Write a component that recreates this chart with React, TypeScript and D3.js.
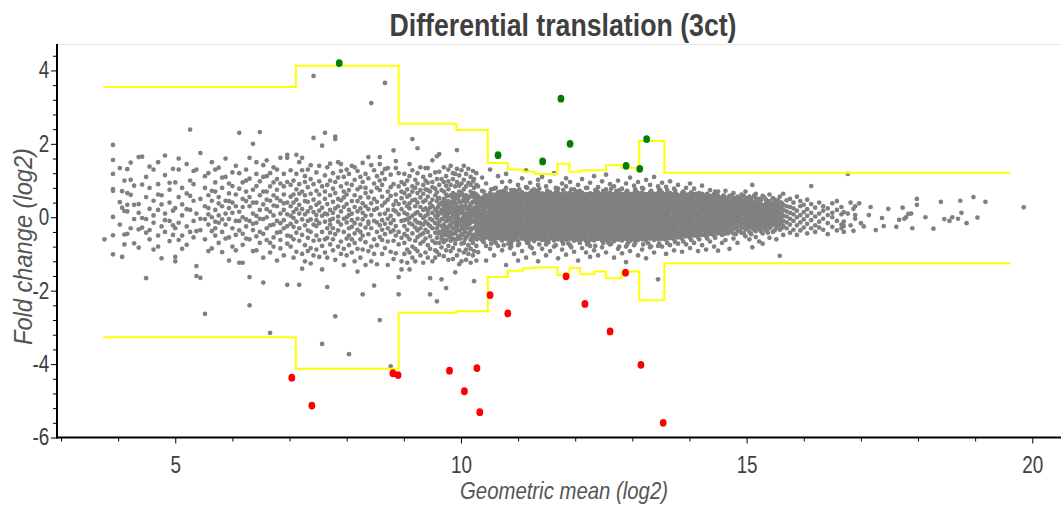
import { useEffect, useRef } from "react";
import * as d3 from "d3";

const TITLE = "Differential translation (3ct)";
const X_LABEL = "Geometric mean (log2)";
const Y_LABEL = "Fold change (log2)";

const X_MAJOR_TICKS = [5, 10, 15, 20];
const X_MINOR_TICKS = [3, 4, 6, 7, 8, 9, 11, 12, 13, 14, 16, 17, 18, 19];
const Y_MAJOR_TICKS = [-6, -4, -2, 0, 2, 4];
const Y_MINOR_TICKS = [
  -5.6, -5.2, -4.8, -4.4, -3.6, -3.2, -2.8, -2.4, -1.6, -1.2, -0.8, -0.4, 0.4,
  0.8, 1.2, 1.6, 2.4, 2.8, 3.2, 3.6, 4.4,
];

// threshold step lines (x break points, one limit per segment)
const STEP_BREAKS = [
  3.74, 7.11, 8.91, 9.92, 10.47, 10.82, 11.09, 11.29, 11.69, 11.9, 12.09, 12.33,
  12.54, 12.81, 13.12, 13.56, 19.62,
];
const UPPER_LIMIT = [
  3.55, 4.13, 2.55, 2.38, 1.48, 1.3, 1.24, 1.18, 1.46, 1.24, 1.28, 1.28, 1.42,
  1.35, 2.08, 1.21,
];
const LOWER_LIMIT = [
  -3.27, -4.13, -2.6, -2.56, -1.63, -1.46, -1.39, -1.37, -1.57, -1.38, -1.55,
  -1.48, -1.66, -1.48, -2.26, -1.25,
];

const UP_GENES: [number, number][] = [
  [7.87, 4.2], [10.65, 1.69], [11.43, 1.52], [11.75, 3.23], [11.91, 2.0],
  [12.89, 1.4], [13.13, 1.32], [13.25, 2.13],
];
const DOWN_GENES: [number, number][] = [
  [7.04, -4.37], [7.39, -5.13], [8.81, -4.25], [8.9, -4.3], [9.8, -4.18],
  [10.06, -4.74], [10.28, -4.11], [10.33, -5.31], [10.51, -2.12],
  [10.82, -2.62], [11.84, -1.61], [12.17, -2.36], [12.61, -3.11],
  [12.88, -1.51], [13.15, -4.02], [13.54, -5.6],
];

// all other genes: "geometric mean : fold changes x100"
const GRAY_COLUMNS = [
  "3.76:-60", "3.91:197,156,118,77,72,1,-49,-101", "4.03:41,-20,134", "4.07:26,71,-108",
  "4.11:17,100,-74,-47", "4.16:16,66,-45,131,34", "4.22:102,61,-30,149", "4.28:34,-71,-5,86",
  "4.36:164,36,-83,12,-33", "4.42:165,-28,89,-2", "4.49:-166,55,-5,110,-42", "4.55:23,-35,80,-60,138",
  "4.62:130,5,-15,45,-88", "4.70:90,-50,20,-80,150,62", "4.76:60,-25,35,-112", "4.82:168,10,-40,115,-8",
  "4.90:75,-10,-65,40,94", "4.96:-22,132,18,-48", "5.00:-108,-120,25,95,-30", "5.06:160,55,-15,130,-62",
  "5.12:5,-50,80,35,-86", "5.20:145,-25,65,-75,22", "5.26:239,20,-40,100,58", "5.32:90,-10,45,-55,126",
  "5.37:-133,-160,130,10,-38", "5.44:-165,50,-35,175,-4", "5.52:-263,80,-5,30,-60,112",
  "5.58:120,25,-20,60,-92,8", "5.64:45,-85,0,150,72,-38", "5.70:95,-30,20,70,-50,-12,130",
  "5.76:135,5,-15,55,-70,38", "5.82:80,-40,30,-95,108,-6", "5.88:160,10,-20,45,110,-58",
  "5.94:65,-55,25,-5,92,-118,44", "6.00:85,-30,40,-80,12,122", "6.06:-10,62,-48,30,140,-90",
  "6.12:230,-124,120,15,-10,78,-36", "6.18:50,-45,95,0,-75,28,-124", "6.24:70,-25,130,-6,44,-58,100",
  "6.30:-163,-240,30,-60,105,55,-10,162", "6.36:200,10,-35,75,-92,40,-18", "6.42:85,-15,40,-90,150,4,118,-52",
  "6.48:232,20,60,-40,98,-70,-4", "6.54:-178,110,-5,35,-45,70,-110,142", "6.60:155,70,0,-30,22,-62,112,48",
  "6.66:-315,45,-70,120,15,-22,84,-96", "6.72:95,-20,60,-55,5,136,32,-80", "6.78:130,30,-10,75,-42,-118,104,52",
  "6.84:162,-40,45,10,-85,-16,92,-62", "6.90:62,-30,20,118,-8,-104,84,38", "6.96:162,170,-50,40,8,-72,96,-24,-184",
  "7.02:-52,30,88,-18,4,-80,56,128", "7.07:-26,62,-110,14,100,-60,40,-2", "7.12:170,-42,22,76,-94,-12,118,48",
  "7.17:150,-184,10,-64,90,34,-30,64", "7.22:162,-48,-6,70,128,-100,22,-140", "7.27:44,-22,96,-76,8,60,-120,112",
  "7.32:-36,16,130,-56,82,-10,42,-92", "7.37:64,-84,26,-6,104,-40,142,-126", "7.42:385,216,-20,48,-64,14,90,-104",
  "7.47:122,-8,34,-50,72,-88,-24,6", "7.52:-62,40,-16,98,18,-108,62,140", "7.57:195,-345,-40,26,84,-78,4,-142",
  "7.62:230,50,-12,-60,114,10,-96,70", "7.66:-190,-30,88,36,-110,8,-56,136", "7.71:60,-20,100,-74,20,-42,146,-8",
  "7.76:-90,42,-4,120,-30,78,-60,12", "7.80:220,213,-270,24,-46,66,-116,96", "7.85:-12,50,-80,108,2,-36,30,150",
  "7.90:145,126,-66,16,-20,84,46,-100", "7.95:-40,70,-4,-86,110,28,-130,54", "8.00:36,-58,92,-14,130,0,-104,62",
  "8.04:-373,-30,20,74,-76,118,-50,6", "8.09:88,-26,44,-96,10,140,-60,-8", "8.14:-44,60,-120,28,102,-16,-70,136",
  "8.19:16,-86,76,-34,126,44,-4,-148", "8.24:110,-60,24,-20,82,-110,54,-40", "8.28:-210,-6,148,38,-50,96,-88,12",
  "8.33:66,-28,-130,30,118,-68,4,80", "8.38:164,-12,54,-92,22,-46,106,-18", "8.43:311,-80,38,-30,142,6,-120,70",
  "8.48:-186,92,-10,50,-60,128,20,-100", "8.53:-40,112,24,-76,80,-14,42,-128", "8.58:164,145,-280,8,-54,74,-22,100",
  "8.62:-62,32,120,-100,-8,56,-34,88", "8.67:366,131,-18,-84,40,-46,10,104", "8.72:70,-30,-130,20,134,-66,48,-4",
  "8.77:-406,-94,58,4,-40,116,-16,82", "8.82:182,-8,34,-64,90,-114,20,-36", "8.86:153,-50,62,16,-98,134,-24,44",
  "8.91:-163,-210,8,-40,84,-74,120,36", "8.96:-142,52,-10,96,-56,22,-120,70",
  "9.01:-24,40,-70,12,90,-46,66,-8,118,-100", "9.06:56,-34,100,-6,-88,30,-124,76,8,-52",
  "9.10:-142,145,-16,60,-60,24,112,-96,-2,38", "9.15:213,-44,84,4,-80,46,-20,128,-110,70",
  "9.20:10,-64,102,-28,48,-120,80,-8,30,-86", "9.24:188,-36,66,-92,14,120,-54,40,-14,92",
  "9.29:-16,74,-104,28,-48,136,6,-72,54,-30", "9.34:88,-20,42,-66,110,-2,-124,20,64,-44",
  "9.38:-58,24,134,-12,76,-96,46,-34,4,100", "9.42:134,-76,8,-40,94,56,-110,18,-18,74",
  "9.46:-210,-166,38,-4,114,-52,70,-86,26,-24", "9.50:155,-30,82,-64,12,48,-120,96,-8,30",
  "9.55:-90,60,-16,122,-42,22,-70,78,4,-110", "9.58:166,-229,-2,44,-56,104,-30,16,-94,68",
  "9.62:172,34,-70,88,-12,-40,124,10,-102,52", "9.66:-169,-48,20,74,-24,104,-82,-6,40,-58",
  "9.70:96,-20,50,-106,8,136,-40,70,-68,28", "9.74:-193,36,-62,112,-10,62,-90,14,-34,86",
  "9.78:-28,76,-116,22,-50,98,0,44,-78,130", "9.82:60,-40,140,-6,-92,30,88,-64,12,-22",
  "9.86:-114,24,-30,104,-58,66,2,-84,44,120", "9.90:-150,84,-18,38,-72,118,-2,54,-44,16",
  "9.93:183,-60,8,96,-26,-104,60,24,-10,132", "9.97:-36,70,-90,18,114,-56,42,-12,-128,86",
  "10.01:30,-46,-120,92,-8,66,-72,12,128,-24", "10.05:-70,50,4,102,-32,-96,28,76,-14,140",
  "10.09:118,-22,42,-88,8,-54,84,-4,-116,60", "10.13:-44,94,-8,28,-76,132,-30,52,12,-100",
  "10.17:70,-62,-14,110,36,-86,20,-36,88,-124", "10.21:-10,56,-104,24,-48,98,6,-70,42,126",
  "10.23:-174,80,-30,14,-58,66,-12,104,-92", "10.27:40,-78,120,-22,8,-44,88,-118,62,-4",
  "10.30:-95,-58,-45,-34,-22,-10,2,13,25,36,47,57,84", "10.37:-62,-51,-39,-28,-16,-4,7,19,31,42,52,72,108",
  "10.44:-118,-78,-55,-43,-31,-20,-9,3,15,27,38,50,60,92", "10.51:-60,-48,-36,-25,-13,-1,10,22,33,44,55,66,-86,130",
  "10.58:-64,-53,-41,-29,-18,-6,5,17,28,40,51,62,-104,78", "10.65:-57,-46,-34,-23,-11,0,12,24,35,47,58,68,-78,112",
  "10.72:-63,-50,-39,-27,-15,-3,8,20,31,43,54,64,-90,96", "10.79:-59,-47,-36,-24,-12,-1,11,23,34,45,57,67,-130,80,118",
  "10.86:-65,-52,-40,-29,-17,-5,6,18,30,41,52,63,-84,98", "10.93:-61,-49,-37,-26,-14,-2,9,21,32,44,55,66,-100,74",
  "11.00:-64,-51,-40,-28,-16,-4,7,19,30,42,53,65,-76,-118,88", "11.07:-58,-46,-35,-23,-11,0,12,23,35,46,57,68,-92,106",
  "11.14:-63,-50,-38,-27,-15,-3,8,20,31,43,54,64,-110,82,128", "11.21:-60,-48,-37,-25,-13,-2,10,21,33,44,56,66,-80,94",
  "11.28:-65,-53,-41,-29,-18,-6,5,17,28,40,51,63,-98,76", "11.35:-59,-47,-36,-24,-12,-1,11,22,34,45,56,67,-120,88,102",
  "11.42:-62,-50,-38,-27,-15,-3,8,20,31,43,54,65,-86,110", "11.49:-64,-52,-40,-28,-17,-5,6,18,30,41,52,64,-74,-104,84",
  "11.56:-58,-47,-35,-23,-12,0,11,23,34,46,57,68,-92,98", "11.63:-63,-51,-39,-27,-16,-4,8,19,31,42,54,64,-80,120",
  "11.70:-60,-49,-37,-25,-14,-2,9,21,32,44,55,66,-112,78", "11.77:-65,-53,-41,-29,-18,-6,6,17,29,40,52,63,-88,92",
  "11.84:-61,-49,-38,-26,-14,-3,9,20,32,43,55,65,-102,84,106", "11.91:-59,-47,-36,-24,-12,0,11,23,34,46,57,67,-76,96",
  "11.98:-64,-52,-40,-28,-16,-5,7,18,30,41,53,64,-94,76", "12.05:-62,-50,-38,-27,-15,-3,8,20,31,43,54,66,-118,88",
  "12.12:-60,-48,-37,-25,-13,-1,10,22,33,45,56,67,-84,104", "12.19:-65,-53,-41,-29,-18,-6,6,17,29,40,52,63,-96,80",
  "12.26:-61,-49,-37,-26,-14,-2,9,21,32,44,55,65,-78,-108,94", "12.33:-63,-51,-39,-27,-16,-4,8,19,31,42,54,64,-90,112",
  "12.40:-59,-47,-35,-24,-12,0,11,23,34,46,57,68,-104,82", "12.47:-64,-52,-40,-28,-17,-5,7,18,30,41,53,63,-82,98",
  "12.54:-62,-50,-38,-27,-15,-3,8,20,31,43,54,66,-96,76,116", "12.61:-60,-48,-37,-25,-13,-1,10,22,33,45,56,67,-74,90",
  "12.68:-65,-53,-41,-29,-18,-6,6,17,29,40,52,63,-110,84", "12.75:-61,-49,-37,-26,-14,-2,9,21,32,44,55,65,-86,100",
  "12.82:-63,-51,-39,-27,-16,-4,8,19,31,42,54,64,-98,78", "12.89:-59,-47,-36,-24,-12,0,11,23,34,46,57,67,-80,-122,92",
  "12.96:-64,-52,-40,-28,-16,-5,7,18,30,41,53,64,-92,108", "13.03:-61,-49,-38,-26,-14,-3,9,20,32,43,55,65,-76,86",
  "13.10:-62,-50,-38,-27,-15,-3,8,20,31,43,54,66,-104,96", "13.17:-60,-48,-36,-25,-13,-1,10,22,33,45,56,67,-88,80",
  "13.24:-64,-52,-40,-28,-17,-5,7,18,30,41,53,63,-112,102", "13.31:-58,-46,-35,-23,-11,0,12,23,35,46,57,68,-82,88",
  "13.38:-62,-50,-38,-27,-15,-3,8,20,31,43,54,64,-96,110", "13.45:-60,-48,-37,-25,-13,-1,10,22,33,44,56,66,-169,-78,84",
  "13.52:-59,-47,-35,-24,-12,0,11,23,34,46,57,67,-80,94", "13.59:-61,-49,-37,-26,-14,-2,9,21,32,43,55,64,-100,83",
  "13.66:-57,-45,-34,-22,-10,1,13,24,36,47,58,66,-76,98", "13.73:-60,-48,-36,-24,-13,-1,10,22,33,45,56,64,-90,78",
  "13.80:-55,-44,-32,-20,-9,3,14,26,37,48,59,-72,88", "13.87:-58,-46,-34,-23,-11,0,12,24,35,46,57,66,-94",
  "13.94:-52,-40,-29,-17,-6,6,17,29,40,51,61,-74,80", "14.01:-56,-44,-32,-21,-9,2,14,25,37,48,59,-84,92",
  "14.08:-50,-38,-27,-15,-4,8,19,31,42,53,63,-70,78", "14.15:-54,-42,-30,-19,-7,4,16,27,39,50,60,-92",
  "14.22:-48,-36,-25,-13,-2,10,21,33,44,55,64,-76,86", "14.29:-52,-40,-28,-17,-5,6,18,29,41,52,61,-88",
  "14.36:-46,-34,-23,-11,0,12,23,35,46,57,-66,74", "14.43:-50,-38,-26,-15,-3,8,20,31,43,54,63,-80",
  "14.50:-44,-32,-21,-9,2,14,25,37,48,58,-91,70", "14.57:-48,-36,-24,-13,-1,10,22,33,45,55,-70",
  "14.63:-40,-28,-17,-5,6,18,29,41,52,-62,72", "14.70:-86,-34,-22,-11,1,12,24,35,47,58",
  "14.77:-44,-30,-18,-6,5,17,28,40,51,-58,66", "14.84:-36,-24,-12,0,11,23,34,46,56,-70",
  "14.91:-42,-28,-16,-4,8,20,31,43,53,62", "14.98:-34,-22,-10,2,14,25,37,48,-52,70",
  "15.05:-40,-26,-14,-2,10,22,34,45,56,-60", "15.10:88,-82,-30,-18,-6,6,18,30,42",
  "15.16:-38,-24,-12,0,12,24,36,-54,52,64", "15.22:-32,-20,-8,4,16,28,40,50,-66",
  "15.28:-44,-26,-14,-2,10,22,34,58,-72", "15.34:-36,-22,-10,2,14,26,38,48",
  "15.40:-30,-18,-6,6,18,30,44,-56,62", "15.46:-40,-20,-8,8,20,36,52",
  "15.52:-28,-14,0,14,28,42,-60", "15.58:-105,-34,-18,-4,10,24,38,56",
  "15.64:-24,-10,4,20,34,-48,64", "15.70:-30,-14,2,16,30,46",
  "15.76:-20,-4,12,28,-42,50", "15.82:-34,-10,8,24,40", "15.88:-22,0,18,-48,56", "15.94:-14,6,30,-36,44",
  "16.00:-28,-6,14,34", "16.06:-18,4,22,-44,48", "16.13:85,-8,12,36,-30", "16.20:-22,2,26,-40",
  "16.27:-12,10,40,-28", "16.34:-34,-4,18,30", "16.42:-16,6,24,-46", "16.50:-26,0,38,12",
  "16.58:-10,20,-36,44", "16.66:-20,8,28,-30", "16.70:-12,14,-40,-24",
  "16.77:118,10", "16.82:40,-22", "16.87:-37,23", "16.90:-4,6,30", "16.97:38", "17.00:-16", "17.05:-25",
  "17.14:6", "17.17:28", "17.26:-35", "17.37:-2", "17.40:-24", "17.48:23", "17.62:-26", "17.67:-7",
  "17.73:26", "17.76:-4", "17.79:0", "17.83:9", "17.88:10", "17.90:-30", "17.98:50,34", "18.13:0",
  "18.27:-31", "18.40:42", "18.46:-5", "18.55:-10", "18.60:0", "18.70:-4", "18.74:45", "18.76:12",
  "18.85:-16", "18.97:55", "19.04:-1", "19.18:42", "19.85:27",
];

// the solid centre of the cloud, between the columns above
const GRAY_CORE_COLUMNS = [
  "10.34:-52,-41,-29,-17,-6,6,17,29,40,51", "10.41:-56,-45,-33,-22,-10,1,13,24,36,47,58",
  "10.48:-54,-42,-31,-19,-8,4,15,27,38,49,60", "10.55:-57,-46,-34,-23,-11,0,12,23,35,46,57",
  "10.62:-55,-43,-32,-20,-9,3,14,26,37,49,60", "10.69:-58,-47,-35,-24,-12,-1,11,22,34,45,57,70",
  "10.76:-54,-42,-31,-19,-8,4,15,27,38,50,61", "10.83:-72,-57,-45,-34,-22,-11,1,12,24,35,47,58",
  "10.90:-55,-44,-32,-21,-9,3,14,26,37,49,60", "10.97:-56,-45,-33,-22,-10,1,13,24,36,47,59,71",
  "11.04:-53,-42,-30,-19,-7,4,16,27,39,50,61", "11.11:-57,-46,-34,-23,-11,0,12,23,35,46,58",
  "11.18:-70,-54,-43,-31,-20,-8,3,15,26,38,49,60", "11.25:-55,-44,-32,-21,-9,2,14,25,37,48,60",
  "11.32:-57,-45,-34,-22,-11,1,12,24,35,47,58,72", "11.39:-54,-42,-31,-19,-8,4,15,27,38,50,61",
  "11.46:-56,-45,-33,-22,-10,1,13,24,36,47,59", "11.53:-68,-53,-42,-30,-19,-7,4,16,27,39,50,62",
  "11.60:-55,-44,-32,-21,-9,2,14,25,37,48,60", "11.67:-57,-46,-34,-23,-11,0,12,23,35,46,58,71",
  "11.74:-54,-43,-31,-20,-8,3,15,26,38,49,61", "11.81:-56,-44,-33,-21,-10,2,13,25,36,48,59",
  "11.88:-71,-53,-42,-30,-19,-7,4,16,27,39,50,62", "11.95:-55,-44,-32,-21,-9,2,14,25,37,48,60",
  "12.02:-57,-45,-34,-22,-11,1,12,24,35,47,58,70", "12.09:-54,-43,-31,-20,-8,3,15,26,38,49,61",
  "12.16:-56,-44,-33,-21,-10,2,13,25,36,48,59", "12.23:-69,-53,-42,-30,-19,-7,4,16,27,39,50,62",
  "12.30:-55,-44,-32,-21,-9,2,14,25,37,48,60", "12.37:-57,-45,-34,-22,-11,1,12,24,35,47,58,72",
  "12.44:-54,-43,-31,-20,-8,3,15,26,38,49,61", "12.51:-56,-44,-33,-21,-10,2,13,25,36,48,59",
  "12.58:-70,-53,-42,-30,-19,-7,4,16,27,39,50,62", "12.65:-55,-44,-32,-21,-9,2,14,25,37,48,60",
  "12.72:-57,-45,-34,-22,-11,1,12,24,35,47,58,71", "12.79:-54,-43,-31,-20,-8,3,15,26,38,49,61",
  "12.86:-56,-44,-33,-21,-10,2,13,25,36,48,59", "12.93:-68,-53,-42,-30,-19,-7,4,16,27,39,50,62",
  "13.00:-55,-44,-32,-21,-9,2,14,25,37,48,60", "13.07:-57,-45,-34,-22,-11,1,12,24,35,47,58,70",
  "13.14:-54,-43,-31,-20,-8,3,15,26,38,49,61", "13.21:-56,-44,-33,-21,-10,2,13,25,36,48,59",
  "13.28:-71,-53,-42,-30,-19,-7,4,16,27,39,50,62", "13.35:-55,-44,-32,-21,-9,2,14,25,37,48,60",
  "13.42:-57,-45,-34,-22,-11,1,12,24,35,47,58", "13.49:-54,-43,-31,-20,-8,3,15,26,38,49,61,73",
  "13.56:-56,-44,-33,-21,-10,2,13,25,36,48,59", "13.63:-53,-42,-30,-19,-7,4,16,27,39,50,61",
  "13.70:-55,-44,-32,-21,-9,2,14,25,37,48,59", "13.77:-51,-39,-28,-16,-5,7,18,30,41,53,63",
  "13.84:-54,-42,-31,-19,-8,4,15,27,38,49,60", "13.91:-48,-37,-25,-14,-2,9,21,32,44,55,65",
  "13.98:-50,-38,-27,-15,-4,8,19,31,42,54,62", "14.05:-46,-35,-23,-12,0,11,23,34,46,57",
  "14.12:-49,-37,-26,-14,-3,9,20,32,43,55,64", "14.19:-44,-33,-21,-10,2,13,25,36,48,58",
  "14.26:-47,-35,-24,-12,-1,11,22,34,45,56", "14.33:-42,-31,-19,-8,4,15,27,38,49,60",
  "14.40:-45,-33,-22,-10,1,13,24,36,47,58", "14.47:-40,-29,-17,-6,6,17,29,40,51,61",
  "14.54:-42,-30,-19,-7,4,16,27,39,50",
];

// ragged rim of the centre and the denser approach on both sides
const GRAY_EDGE_COLUMNS = [
  "9.60:-44,6,28,-20,52", "9.68:-36,14,-4,36,-60", "9.72:-26,2,46,-48,20", "9.76:-40,-10,30,58,8",
  "9.80:-22,16,-54,40,-2", "9.84:-46,-14,12,34,56", "9.88:-30,4,24,-60,48", "9.91:-8,-38,36,14,62",
  "9.95:-52,-20,6,28,-4,50", "9.99:-34,-12,18,40,-58,60", "10.03:-24,-2,20,-48,44,62",
  "10.07:-40,-14,10,32,54,-60", "10.11:-28,-52,0,22,44,-10", "10.15:-44,-18,8,30,56,-2",
  "10.19:-56,-30,-6,16,38,60", "10.25:-50,-26,-12,4,26,48,64", "10.28:-60,-36,-16,2,20,32,52",
  "10.40:70,-68", "10.53:-72,76", "10.61:80,-70", "10.75:-76,72", "10.88:74,-80,-70", "11.02:76,-72",
  "11.16:-70,80", "11.24:72,-84", "11.37:-74,78", "11.51:72,-70", "11.66:80,-76", "11.79:-72,74",
  "11.93:76,-82", "12.08:-70,72", "12.21:80,-74", "12.35:-78,74", "12.49:72,-70", "12.63:78,-72",
  "12.77:-80,74", "12.91:72,-74", "13.05:76,-70", "13.19:-74,78", "13.33:72,-80", "13.47:-72,76",
  "13.61:74,-70", "13.75:-68,72", "13.89:70,-66", "14.03:68,-62", "14.17:66,-60", "14.31:64,-58",
  "14.45:-56,70",
  "14.60:-46,-34,-22,-11,0,12,24,35,47,60", "14.67:-44,-31,-19,-7,6,17,29,42,53",
  "14.74:-40,-28,-15,-3,9,21,33,46,60", "14.81:-46,-30,-18,-6,6,18,30,42,52",
  "14.88:-38,-22,-10,3,15,27,38,50", "14.95:-44,-28,-16,-4,8,20,32,43,58",
  "15.02:-30,-18,-6,6,18,30,41,52", "15.08:-46,-24,-12,0,12,24,36,50",
  "15.13:-34,-20,-8,4,16,28,40,58", "15.19:-28,-16,-4,8,20,32,44", "15.25:-38,-24,-10,4,18,30,46",
  "15.31:-30,-16,-4,8,20,32,54", "15.37:-42,-26,-12,0,12,24,36", "15.43:-24,-12,2,14,28,40",
  "15.49:-36,-18,-4,10,22,34,48", "15.55:-22,-8,6,18,32,46", "15.61:-30,-14,0,12,26,40",
];

// Liberation Sans squeezed to the width of Arial Narrow
const FONT = "'Liberation Sans', Arial, sans-serif";
const NARROW = 0.82;

const WIDTH = 1061;
const HEIGHT = 505;

export default function App() {
  const ref = useRef<SVGSVGElement | null>(null);

  useEffect(() => {
    if (!ref.current) {
      return;
    }
    const svg = d3.select(ref.current);
    svg.selectAll("*").remove();

    const x = d3.scaleLinear().domain([2.93, 20.52]).range([57, 1062]);
    const y = d3.scaleLinear().domain([-6, 4.72]).range([437.5, 44]);

    const gray = [...GRAY_COLUMNS, ...GRAY_CORE_COLUMNS, ...GRAY_EDGE_COLUMNS].flatMap((col) => {
      const [gx, ys] = col.split(":");
      return ys.split(",").map((v) => [Number(gx), Number(v) / 100] as [number, number]);
    });

    svg
      .append("line")
      .attr("x1", 57)
      .attr("x2", WIDTH)
      .attr("y1", 44.5)
      .attr("y2", 44.5)
      .attr("stroke", "#e8e8e8");

    svg
      .append("g")
      .selectAll("circle")
      .data(gray)
      .enter()
      .append("circle")
      .attr("cx", (d) => x(d[0]))
      .attr("cy", (d) => y(d[1]))
      .attr("r", 2.35)
      .attr("fill", "#808080");

    const step = (limits: number[]) =>
      d3
        .line<number>()
        .curve(d3.curveStepAfter)
        .x((_, i) => x(STEP_BREAKS[i]))
        .y((_, i) => y(limits[Math.min(i, limits.length - 1)]))(STEP_BREAKS);

    [UPPER_LIMIT, LOWER_LIMIT].forEach((limits) => {
      svg
        .append("path")
        .attr("d", step(limits) ?? "")
        .attr("fill", "none")
        .attr("stroke", "#ffff00")
        .attr("stroke-width", 2);
    });

    const dots = (data: [number, number][], color: string) =>
      svg
        .append("g")
        .selectAll("ellipse")
        .data(data)
        .enter()
        .append("ellipse")
        .attr("cx", (d) => x(d[0]))
        .attr("cy", (d) => y(d[1]))
        .attr("rx", 3.4)
        .attr("ry", 3.9)
        .attr("fill", color);
    dots(UP_GENES, "#008000");
    dots(DOWN_GENES, "#ff0000");

    const styleTicks = (g: d3.Selection<SVGGElement, unknown, null, undefined>) =>
      g
        .selectAll("text")
        .attr("font-family", FONT)
        .attr("font-size", 23)
        .attr("fill", "#404040")
        .attr("transform", `scale(${NARROW},1)`);

    // y axis
    const yAxis = svg.append("g").attr("transform", "translate(57,0)");
    yAxis
      .append("g")
      .call(d3.axisLeft(y).tickValues(Y_MINOR_TICKS).tickSize(4).tickFormat(() => ""))
      .call((g) => g.select(".domain").remove());
    yAxis
      .append("g")
      .call(d3.axisLeft(y).tickValues(Y_MAJOR_TICKS).tickSize(6).tickPadding(3.5).tickFormat((d) => String(d)))
      .call((g) => g.select(".domain").remove())
      .call(styleTicks);
    yAxis.append("line").attr("y1", 44).attr("y2", 438.5).attr("stroke", "#000").attr("stroke-width", 2);

    // x axis
    const xAxis = svg.append("g").attr("transform", "translate(0,437.5)");
    xAxis
      .append("g")
      .call(d3.axisBottom(x).tickValues(X_MINOR_TICKS).tickSize(4).tickFormat(() => ""))
      .call((g) => g.select(".domain").remove());
    xAxis
      .append("g")
      .call(d3.axisBottom(x).tickValues(X_MAJOR_TICKS).tickSize(6).tickPadding(13).tickFormat((d) => String(d)))
      .call((g) => g.select(".domain").remove())
      .call(styleTicks);
    xAxis.append("line").attr("x1", 56).attr("x2", WIDTH).attr("stroke", "#000").attr("stroke-width", 2);

    svg
      .append("text")
      .attr("x", 563)
      .attr("y", 36)
      .attr("text-anchor", "middle")
      .attr("font-family", FONT)
      .attr("font-weight", "bold")
      .attr("font-size", 32)
      .attr("textLength", 347)
      .attr("lengthAdjust", "spacingAndGlyphs")
      .attr("fill", "#404040")
      .text(TITLE);

    svg
      .append("text")
      .attr("x", 564)
      .attr("y", 499)
      .attr("text-anchor", "middle")
      .attr("font-family", FONT)
      .attr("font-style", "italic")
      .attr("font-size", 24)
      .attr("textLength", 208)
      .attr("lengthAdjust", "spacingAndGlyphs")
      .attr("fill", "#555")
      .text(X_LABEL);

    svg
      .append("text")
      .attr("transform", "translate(32,246.5) rotate(-90)")
      .attr("text-anchor", "middle")
      .attr("font-family", FONT)
      .attr("font-style", "italic")
      .attr("font-size", 26)
      .attr("textLength", 197)
      .attr("lengthAdjust", "spacingAndGlyphs")
      .attr("fill", "#555")
      .text(Y_LABEL);
  }, []);

  return (
    <svg
      ref={ref}
      width={WIDTH}
      height={HEIGHT}
      style={{ position: "absolute", left: 0, top: 0, background: "#fff" }}
    />
  );
}
